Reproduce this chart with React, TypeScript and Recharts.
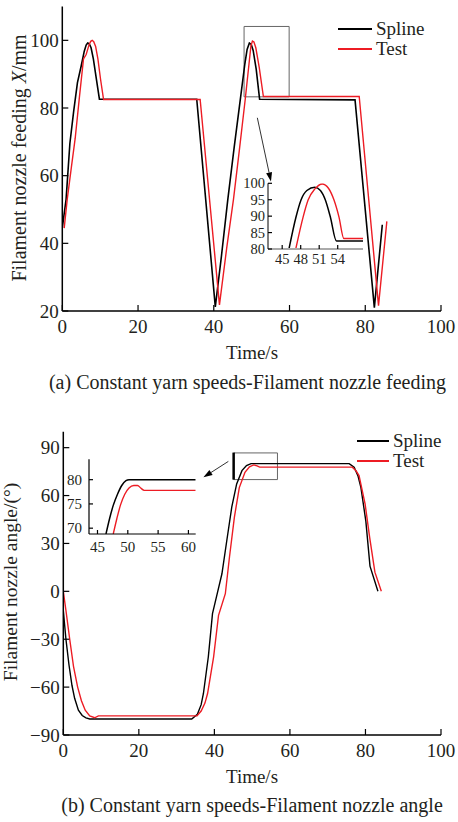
import React from 'react'
import { LineChart, Line, XAxis, YAxis, ReferenceArea, ReferenceLine } from 'recharts'

type Pt = [number, number]

const FONT = '"Liberation Serif", "Times New Roman", serif'
const INK = '#231f20'
const RED = '#ed1c24'

const seriesNames = ['Spline', 'Test']
const seriesColors = ['#000000', RED]

const feedTicksX = [0, 20, 40, 60, 80, 100]
const feedTicksY = [20, 40, 60, 80, 100]
const angleTicksX = [0, 20, 40, 60, 80, 100]
const angleTicksY = [-90, -60, -30, 0, 30, 60, 90]
const feedInsetTicksX = [45, 48, 51, 54]
const feedInsetTicksY = [80, 85, 90, 95, 100]
const angleInsetTicksX = [45, 50, 55, 60]
const angleInsetTicksY = [70, 75, 80]

// (a) filament nozzle feeding, time [s] / X [mm]
const feedSpline: Pt[] = [
  [0, 44.6], [1, 53], [2, 69.5], [3, 79], [4, 87.5], [5, 92.5], [5.8, 96.8], [6.3, 98.6],
  [6.7, 99.2], [7.1, 99], [7.6, 97.8], [8.2, 94.5], [9, 88.5], [9.8, 82.6], [35.5, 82.6],
  [40.4, 21.2], [42, 36], [43.7, 52.9], [45.4, 68.5], [47, 82.5], [48.2, 93],
  [48.8, 97.3], [49.4, 99.2], [49.9, 98.8], [50.4, 97], [51.2, 91.5], [52.1, 82.6],
  [77.3, 82.4], [82.4, 21], [84.5, 45.5],
]
const feedTest: Pt[] = [
  [0.5, 44.5], [1.3, 53], [2.4, 62.5], [3.4, 71], [4.5, 83], [5.6, 94.5], [6.3, 95.8],
  [7.1, 98.8], [7.5, 99.7], [7.9, 100], [8.3, 99.6], [8.8, 98.2], [9.4, 94.5],
  [10.1, 88.5], [10.9, 82.5], [36.4, 82.5], [41.5, 21.8], [43.4, 38.5], [45.2, 53],
  [46.8, 68], [48.3, 82.5], [49.3, 93], [49.8, 98.3], [50.2, 99.8], [50.6, 99.5],
  [51.1, 97.8], [52, 92], [53.1, 83.4], [78.4, 83.4], [83.5, 21.6], [85.7, 46.5],
]
const feedInsetSpline: Pt[] = [
  [46.1, 80], [47.25, 89.8], [48.05, 94.9], [49, 97.8], [50.3, 98.8], [51.2, 97.8],
  [52, 94.9], [52.8, 89.8], [53.8, 82.4], [58.1, 82.4],
]
const feedInsetTest: Pt[] = [
  [47.2, 80], [48.4, 89.8], [49.2, 94.9], [50.3, 98.3], [51.5, 99.8], [52.5, 98.5],
  [53.4, 94.9], [54.2, 89.8], [55, 83.2], [58.1, 83.2],
]

// (b) filament nozzle angle, time [s] / angle [deg]
const angleSpline: Pt[] = [
  [0, -12], [0.7, -30], [1.5, -46], [2.3, -59], [3, -67], [4, -74.5], [5, -77.8],
  [6, -79.3], [7, -80], [34, -80], [35.5, -77], [36.5, -71], [37.1, -64], [38.4, -41],
  [39.5, -14], [40.8, -1], [42, 11], [43.3, 32], [44.6, 52.7], [45.9, 67.3],
  [47.3, 75.6], [48.5, 78.8], [49.7, 80], [75.7, 80], [77, 77.7], [78, 72.5],
  [78.8, 65], [80.1, 44], [81.2, 15.8], [83.3, 0],
]
const angleTest: Pt[] = [
  [0, 0], [0.7, -12], [1.7, -30], [2.7, -47], [3.8, -60], [4.8, -68.5], [5.8, -74.5],
  [7, -78], [8.3, -79.2], [9.3, -78], [35.4, -78], [36.5, -75], [37.5, -70],
  [38.2, -64], [39.8, -41], [41.1, -15], [42.9, -1.5], [44, 21.5], [45.3, 46.5],
  [46.6, 65], [48.1, 74.6], [49.3, 78], [50.4, 79.2], [51.3, 78.6], [52, 77.8],
  [76.5, 77.8], [77.5, 75.5], [78.3, 72.5], [79.9, 54.8], [81.1, 34], [82.5, 12],
  [84.2, 0],
]
const angleInsetSpline: Pt[] = [
  [46.4, 68.8], [47, 72], [47.6, 74.7], [48.3, 77], [49, 78.8], [49.7, 79.8],
  [50.2, 80], [61.2, 80],
]
const angleInsetTest: Pt[] = [
  [47.6, 68.8], [48.2, 72], [48.8, 74.8], [49.5, 77], [50.2, 78.3], [51, 78.8],
  [51.6, 78.8], [52.2, 78.2], [52.7, 77.8], [61.2, 77.8],
]

const rows = (pts: Pt[]) => pts.map(([t, v]) => ({ t, v }))
const fmt = (v: number) => (v < 0 ? '\u2212' + Math.abs(v) : String(v))

// inward tick marks, labels outside
function AxisTick(props: any) {
  const { x, y, payload, side, len, gap, size } = props
  const label = fmt(payload.value)
  if (side === 'left') {
    return (
      <g>
        <line x1={x} y1={y} x2={x + len} y2={y} stroke="#000" strokeWidth={1.2} />
        <text x={x - gap} y={y} dy="0.35em" textAnchor="end" fontFamily={FONT} fontSize={size} fill={INK}>
          {label}
        </text>
      </g>
    )
  }
  return (
    <g>
      <line x1={x} y1={y} x2={x} y2={y - len} stroke="#000" strokeWidth={1.2} />
      <text x={x} y={y + gap} dy="0.35em" textAnchor="middle" fontFamily={FONT} fontSize={size} fill={INK}>
        {label}
      </text>
    </g>
  )
}

function Arrow(props: any) {
  const { x1, y1, x2, y2 } = props
  const a = Math.atan2(y2 - y1, x2 - x1)
  const L = 9
  const W = 3
  const bx = x2 - L * Math.cos(a)
  const by = y2 - L * Math.sin(a)
  const px = -Math.sin(a) * W
  const py = Math.cos(a) * W
  return (
    <g>
      <line x1={x1} y1={y1} x2={bx} y2={by} stroke="#333" strokeWidth={1} />
      <polygon points={`${x2},${y2} ${bx + px},${by + py} ${bx - px},${by - py}`} fill="#000" />
    </g>
  )
}

function LegendBox({ left, top, lineW }: { left: number; top: number; lineW: number }) {
  return (
    <div style={{ position: 'absolute', left, top, fontFamily: FONT, fontSize: 19, color: INK }}>
      {seriesNames.map((name, i) => (
        <div key={name} style={{ display: 'flex', alignItems: 'center', height: 20 }}>
          <span
            style={{
              display: 'inline-block',
              width: lineW,
              borderTop: `2px solid ${seriesColors[i]}`,
              marginRight: 4,
            }}
          />
          {name}
        </div>
      ))}
    </div>
  )
}

function Txt({ cx, cy, size = 19, children }: { cx: number; cy: number; size?: number; children: React.ReactNode }) {
  return (
    <div
      style={{
        position: 'absolute',
        left: cx - 220,
        top: cy - 11,
        width: 440,
        height: 22,
        lineHeight: '22px',
        textAlign: 'center',
        whiteSpace: 'nowrap',
        fontFamily: FONT,
        fontSize: size,
        color: INK,
      }}
    >
      {children}
    </div>
  )
}

const mainTick = (side: string) => (p: any) =>
  <AxisTick {...p} side={side} len={6} gap={side === 'left' ? 3.5 : 15.5} size={19} />

export default function App() {
  return (
    <div style={{ position: 'absolute', left: 0, top: 0, width: 458, height: 822, background: '#fff' }}>
      {/* (a) feeding */}
      <div style={{ position: 'absolute', left: 0, top: 0 }}>
        <LineChart width={458} height={340} margin={{ top: 6.5, right: 17, bottom: 0, left: 0 }}>
          <XAxis
            dataKey="t"
            type="number"
            domain={[0, 100]}
            ticks={feedTicksX}
            interval={0}
            height={29}
            tickSize={0}
            tickMargin={0}
            tickLine={false}
            axisLine={{ stroke: '#000', strokeWidth: 1.5 }}
            tick={mainTick('bottom')}
            allowDataOverflow
          />
          <YAxis
            type="number"
            domain={[20, 110]}
            ticks={feedTicksY}
            interval={0}
            width={62.3}
            tickSize={0}
            tickMargin={0}
            tickLine={false}
            axisLine={{ stroke: '#000', strokeWidth: 1.5 }}
            tick={mainTick('left')}
            allowDataOverflow
          />
          <ReferenceArea x1={48} x2={59.9} y1={83.3} y2={104.1} fill="none" stroke="#666" strokeWidth={1} />
          <Line data={rows(feedSpline)} dataKey="v" stroke="#000" strokeWidth={1.6} dot={false} isAnimationActive={false} />
          <Line data={rows(feedTest)} dataKey="v" stroke={RED} strokeWidth={1.4} dot={false} isAnimationActive={false} />
          <ReferenceLine segment={[{ x: 51.5, y: 77.1 }, { x: 55.1, y: 58.3 }]} shape={Arrow} />
        </LineChart>
      </div>
      <div style={{ position: 'absolute', left: 228.3, top: 170 }}>
        <LineChart width={150} height={100} margin={{ top: 13.3, right: 15, bottom: 0, left: 0 }}>
          <XAxis
            dataKey="t"
            type="number"
            domain={[42.7, 58.1]}
            ticks={feedInsetTicksX}
            interval={0}
            height={21}
            tickSize={0}
            tickMargin={0}
            tickLine={false}
            axisLine={{ stroke: '#aaa', strokeWidth: 2 }}
            tick={(p: any) => <AxisTick {...p} side="bottom" len={4} gap={10} size={14.5} />}
            allowDataOverflow
          />
          <YAxis
            type="number"
            domain={[80, 100]}
            ticks={feedInsetTicksY}
            interval={0}
            width={40}
            tickSize={0}
            tickMargin={0}
            tickLine={false}
            axisLine={{ stroke: '#000', strokeWidth: 1 }}
            tick={(p: any) => <AxisTick {...p} side="left" len={4} gap={3} size={14.5} />}
            allowDataOverflow
          />
          <Line type="monotone" data={rows(feedInsetSpline)} dataKey="v" stroke="#000" strokeWidth={1.5} dot={false} isAnimationActive={false} />
          <Line type="monotone" data={rows(feedInsetTest)} dataKey="v" stroke={RED} strokeWidth={1.4} dot={false} isAnimationActive={false} />
        </LineChart>
      </div>
      <LegendBox left={338} top={19} lineW={34} />
      <Txt cx={19} cy={158} size={20}>
        <span style={{ display: 'inline-block', transform: 'rotate(-90deg)' }}>
          Filament nozzle feeding <i>X</i>/mm
        </span>
      </Txt>
      <Txt cx={252} cy={353}>Time/s</Txt>
      <Txt cx={247.5} cy={381.5} size={20}>(a) Constant yarn speeds-Filament nozzle feeding</Txt>

      {/* (b) angle */}
      <div style={{ position: 'absolute', left: 0, top: 420 }}>
        <LineChart width={458} height={340} margin={{ top: 11.7, right: 17, bottom: 0, left: 0 }}>
          <XAxis
            dataKey="t"
            type="number"
            domain={[0, 100]}
            ticks={angleTicksX}
            interval={0}
            height={25}
            tickSize={0}
            tickMargin={0}
            tickLine={false}
            axisLine={{ stroke: '#000', strokeWidth: 1.5 }}
            tick={mainTick('bottom')}
            allowDataOverflow
          />
          <YAxis
            type="number"
            domain={[-90, 100]}
            ticks={angleTicksY}
            interval={0}
            width={63.3}
            tickSize={0}
            tickMargin={0}
            tickLine={false}
            axisLine={{ stroke: '#000', strokeWidth: 1.5 }}
            tick={mainTick('left')}
            allowDataOverflow
          />
          <ReferenceArea x1={45.1} x2={56.7} y1={70} y2={86.7} fill="none" stroke="#666" strokeWidth={1} />
          <ReferenceLine segment={[{ x: 45.1, y: 70 }, { x: 45.1, y: 86.9 }]} stroke="#000" strokeWidth={2.5} />
          <Line data={rows(angleSpline)} dataKey="v" stroke="#000" strokeWidth={1.4} dot={false} isAnimationActive={false} />
          <Line data={rows(angleTest)} dataKey="v" stroke={RED} strokeWidth={1.4} dot={false} isAnimationActive={false} />
          <ReferenceLine segment={[{ x: 43.7, y: 81.4 }, { x: 37.1, y: 71.4 }]} shape={Arrow} />
        </LineChart>
      </div>
      <div style={{ position: 'absolute', left: 49, top: 445 }}>
        <LineChart width={160} height={110} margin={{ top: 14.3, right: 13.3, bottom: 0, left: 0 }}>
          <XAxis
            dataKey="t"
            type="number"
            domain={[43.6, 61.2]}
            ticks={angleInsetTicksX}
            interval={0}
            height={21}
            tickSize={0}
            tickMargin={0}
            tickLine={false}
            axisLine={{ stroke: '#000', strokeWidth: 1.2 }}
            tick={(p: any) => <AxisTick {...p} side="bottom" len={4} gap={12.5} size={15} />}
            allowDataOverflow
          />
          <YAxis
            type="number"
            domain={[68.8, 84.2]}
            ticks={angleInsetTicksY}
            interval={0}
            width={40}
            tickSize={0}
            tickMargin={0}
            tickLine={false}
            axisLine={{ stroke: '#000', strokeWidth: 1.2 }}
            tick={(p: any) => <AxisTick {...p} side="left" len={4} gap={7} size={15} />}
            allowDataOverflow
          />
          <Line type="monotone" data={rows(angleInsetSpline)} dataKey="v" stroke="#000" strokeWidth={1.5} dot={false} isAnimationActive={false} />
          <Line type="monotone" data={rows(angleInsetTest)} dataKey="v" stroke={RED} strokeWidth={1.4} dot={false} isAnimationActive={false} />
        </LineChart>
      </div>
      <LegendBox left={357} top={430.5} lineW={32} />
      <Txt cx={11} cy={582} size={19.5}>
        <span style={{ display: 'inline-block', transform: 'rotate(-90deg)' }}>
          Filament nozzle angle/(°)
        </span>
      </Txt>
      <Txt cx={252} cy={776.5}>Time/s</Txt>
      <Txt cx={252} cy={805} size={20}>(b) Constant yarn speeds-Filament nozzle angle</Txt>
    </div>
  )
}
